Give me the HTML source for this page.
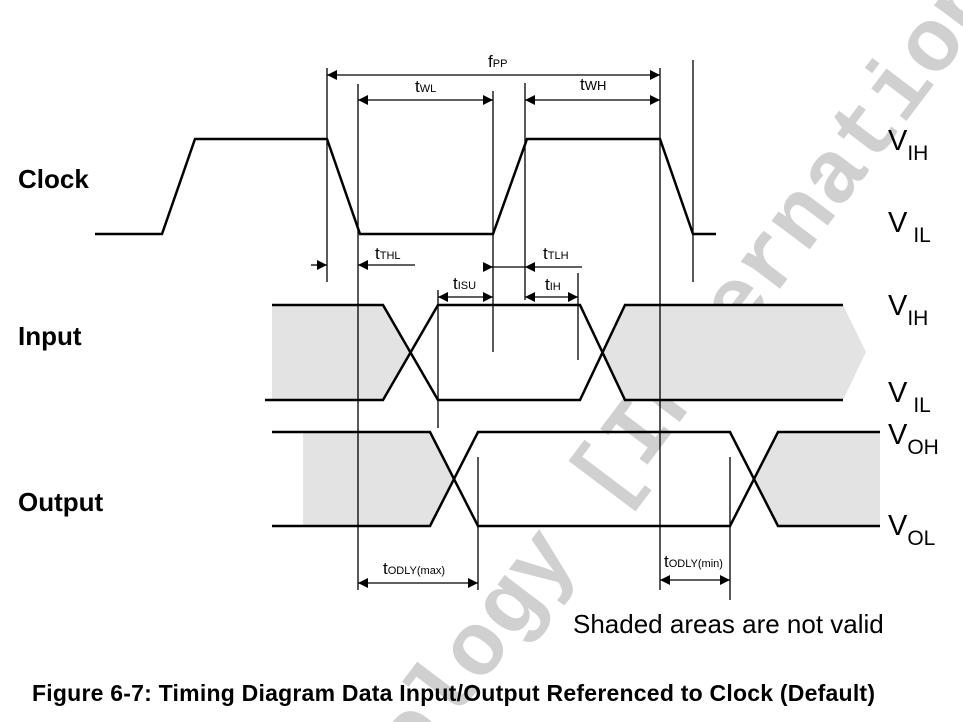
<!DOCTYPE html>
<html><head><meta charset="utf-8"><style>
html,body{margin:0;padding:0;background:#fff;width:963px;height:722px;overflow:hidden;}
svg{display:block;}
text{font-family:"Liberation Sans",Arial,sans-serif;}
</style></head><body>
<svg width="963" height="722" viewBox="0 0 963 722" xmlns="http://www.w3.org/2000/svg">
<defs>
<marker id="a" viewBox="0 0 10 10" refX="10" refY="5" markerWidth="10" markerHeight="10" markerUnits="userSpaceOnUse" orient="auto-start-reverse"><path d="M0,0 L10,5 L0,10 z" fill="#000"/></marker>
<clipPath id="c"><rect x="0" y="0" width="963" height="722"/></clipPath>
</defs>
<g clip-path="url(#c)">
<g transform="translate(700,345) rotate(-53)">
<text x="-80" y="30" text-anchor="middle" font-weight="bold" font-size="90" fill="#d0d0d0" style="font-family:'Liberation Mono',monospace">Technology [International]</text>
</g>
</g>
<g fill="#e3e3e3">
<polygon points="272,305 383,305 410,352 383,400 272,400"/>
<polygon points="603,352 625,305 843,305 866,352 843,400 625,400"/>
<polygon points="303,432 430,432 454,479 430,526 303,526"/>
<polygon points="754,479 778,432 880,432 880,526 778,526"/>
</g>
<polyline points="95,234 162,234 195,139 327,139 360,234 493,234 527,139 660,139 693,234 716,234" fill="none" stroke="#000" stroke-width="2.5"/>
<g fill="none" stroke="#000" stroke-width="2.5">
<polyline points="272,305 383,305 438,400 580,400 625,305 843,305"/>
<polyline points="265,400 383,400 438,305 580,305 625,400 843,400"/>
<polyline points="272,432 430,432 478,526 730,526 778,432 880,432"/>
<polyline points="272,526 430,526 478,432 730,432 778,526 880,526"/>
</g>
<g stroke="#000" stroke-width="1.3">
<line x1="327" y1="68" x2="327" y2="282"/>
<line x1="358" y1="84" x2="358" y2="590"/>
<line x1="493" y1="91" x2="493" y2="352"/>
<line x1="525" y1="83" x2="525" y2="300"/>
<line x1="660" y1="68" x2="660" y2="590"/>
<line x1="693" y1="60" x2="693" y2="282"/>
<line x1="438" y1="290" x2="438" y2="428"/>
<line x1="578" y1="273" x2="578" y2="360"/>
<line x1="478" y1="457" x2="478" y2="590"/>
<line x1="730" y1="457" x2="730" y2="600"/>
</g>
<g stroke="#000" stroke-width="1.3" marker-start="url(#a)" marker-end="url(#a)">
<line x1="327" y1="75" x2="660" y2="75"/>
<line x1="358" y1="100" x2="493" y2="100"/>
<line x1="525" y1="100" x2="660" y2="100"/>
<line x1="438" y1="297" x2="493" y2="297"/>
<line x1="525" y1="297" x2="578" y2="297"/>
<line x1="358" y1="583" x2="478" y2="583"/>
<line x1="660" y1="580" x2="730" y2="580"/>
</g>
<g stroke="#000" stroke-width="1.3">
<line x1="311" y1="265" x2="327" y2="265" marker-end="url(#a)"/>
<line x1="415" y1="265" x2="358" y2="265" marker-end="url(#a)"/>
<line x1="483" y1="267" x2="493" y2="267" marker-end="url(#a)"/>
<line x1="493" y1="267" x2="525" y2="267"/>
<line x1="582" y1="267" x2="525" y2="267" marker-end="url(#a)"/>
</g>
<g font-size="17" fill="#000">
<text x="488" y="67">f<tspan font-size="11">PP</tspan></text>
<text x="415" y="92">t<tspan font-size="11">WL</tspan></text>
<text x="580" y="90">t<tspan font-size="13">WH</tspan></text>
<text x="375" y="259">t<tspan font-size="11">THL</tspan></text>
<text x="543" y="259">t<tspan font-size="11">TLH</tspan></text>
<text x="453" y="289">t<tspan font-size="11">ISU</tspan></text>
<text x="545" y="290">t<tspan font-size="11">IH</tspan></text>
<text x="383" y="574">t<tspan font-size="11">ODLY(max)</tspan></text>
<text x="664" y="567">t<tspan font-size="11">ODLY(min)</tspan></text>
</g>
<g font-size="26" font-weight="bold" fill="#000">
<text x="18" y="188">Clock</text>
<text x="18" y="345">Input</text>
<text x="18" y="511">Output</text>
</g>
<g font-size="29" fill="#000">
<text x="888" y="150">V<tspan font-size="21" dy="10">IH</tspan></text>
<text x="888" y="232">V<tspan font-size="21" dy="10" dx="6">IL</tspan></text>
<text x="888" y="315">V<tspan font-size="21" dy="10">IH</tspan></text>
<text x="888" y="402">V<tspan font-size="21" dy="10" dx="6">IL</tspan></text>
<text x="888" y="444">V<tspan font-size="21" dy="10">OH</tspan></text>
<text x="888" y="535">V<tspan font-size="21" dy="10">OL</tspan></text>
</g>
<text x="573" y="633" font-size="26" fill="#000">Shaded areas are not valid</text>
<text x="32" y="701" font-size="23" font-weight="bold" fill="#000" textLength="843">Figure 6-7: Timing Diagram Data Input/Output Referenced to Clock (Default)</text>
</svg>
</body></html>
